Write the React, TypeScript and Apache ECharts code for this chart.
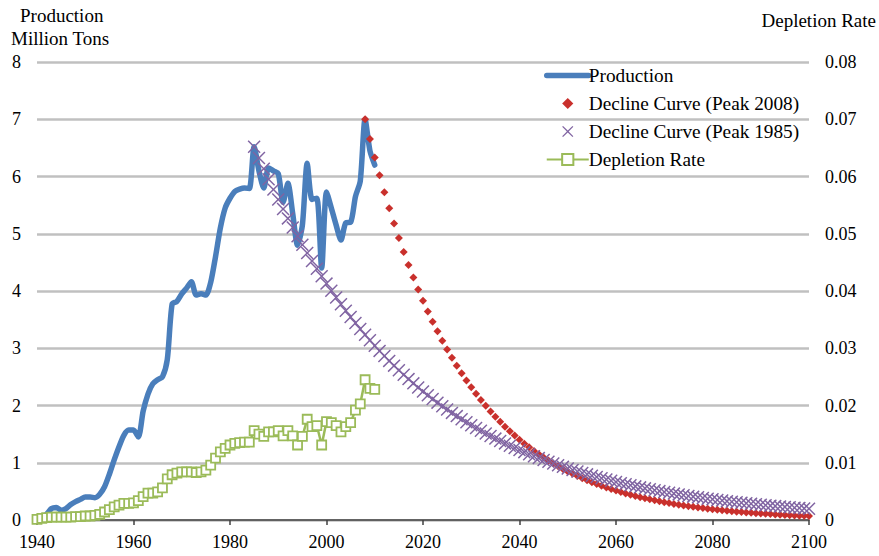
import React, { useEffect, useRef } from "react";
import * as echarts from "echarts";

// ---- Data ----
const productionStartYear = 1940;
const production = [
  0.0, 0.03, 0.1, 0.2, 0.22, 0.17, 0.2, 0.27, 0.32, 0.36,
  0.4, 0.4, 0.39, 0.45, 0.58, 0.8, 1.05, 1.28, 1.48, 1.57,
  1.57, 1.45, 1.9, 2.2, 2.38, 2.45, 2.5, 2.8, 3.77, 3.82,
  3.95, 4.05, 4.16, 3.93, 3.95, 3.93, 4.15, 4.6, 5.1, 5.45,
  5.62, 5.74, 5.78, 5.8, 5.79, 6.52, 6.1, 5.8, 6.15, 6.1,
  6.05, 5.55, 5.88, 5.35, 4.8, 5.15, 6.23, 5.6, 5.62, 4.4,
  5.73, 5.45, 5.15, 4.89, 5.19, 5.2, 5.65, 5.92, 7.0, 6.45,
  6.2,
];

const depletionRate = [
  0.0001, 0.0003, 0.0004, 0.0005, 0.0005, 0.0005, 0.0005, 0.0005, 0.0006, 0.0006,
  0.0007, 0.0007, 0.0008, 0.001, 0.0014, 0.0018, 0.0023, 0.0026, 0.0029, 0.0029,
  0.003, 0.0034, 0.0041, 0.0047, 0.0047, 0.0049, 0.0056, 0.0072, 0.0079, 0.0082,
  0.0084, 0.0084, 0.0084, 0.0083, 0.0084, 0.0087, 0.0096, 0.0108, 0.0119, 0.0125,
  0.0131, 0.0134, 0.0135, 0.0136, 0.0136, 0.0156, 0.015, 0.0146, 0.0154, 0.0154,
  0.0156, 0.0147, 0.0156, 0.0147, 0.0131, 0.0146, 0.0176, 0.0163, 0.0165, 0.0131,
  0.0172, 0.017, 0.0165, 0.0154, 0.0163, 0.017, 0.0192, 0.0203, 0.0245, 0.023,
  0.0228,
];

const decline2008StartYear = 2008;
const decline2008 = [
  7.0, 6.657, 6.331, 6.021, 5.726, 5.445, 5.178, 4.925, 4.683, 4.454,
  4.236, 4.028, 3.831, 3.643, 3.465, 3.295, 3.133, 2.98, 2.834, 2.695,
  2.563, 2.437, 2.318, 2.204, 2.096, 1.994, 1.896, 1.803, 1.715, 1.631,
  1.551, 1.475, 1.403, 1.334, 1.269, 1.206, 1.147, 1.091, 1.038, 0.987,
  0.938, 0.892, 0.849, 0.807, 0.768, 0.73, 0.694, 0.66, 0.628, 0.597,
  0.568, 0.54, 0.514, 0.488, 0.464, 0.442, 0.42, 0.399, 0.38, 0.361,
  0.343, 0.327, 0.311, 0.295, 0.281, 0.267, 0.254, 0.242, 0.23, 0.218,
  0.208, 0.198, 0.188, 0.179, 0.17, 0.162, 0.154, 0.146, 0.139, 0.132,
  0.126, 0.12, 0.114, 0.108, 0.103, 0.098, 0.093, 0.089, 0.084, 0.08,
  0.076, 0.073, 0.069,
];

const decline1985StartYear = 1985;
const decline1985 = [
  6.52, 6.324, 6.135, 5.951, 5.772, 5.599, 5.431, 5.268, 5.11, 4.957,
  4.808, 4.664, 4.524, 4.388, 4.257, 4.129, 4.005, 3.885, 3.769, 3.656,
  3.546, 3.44, 3.336, 3.236, 3.139, 3.045, 2.954, 2.865, 2.779, 2.696,
  2.615, 2.537, 2.461, 2.387, 2.315, 2.246, 2.178, 2.113, 2.05, 1.988,
  1.929, 1.871, 1.815, 1.76, 1.707, 1.656, 1.607, 1.558, 1.512, 1.466,
  1.422, 1.38, 1.338, 1.298, 1.259, 1.221, 1.185, 1.149, 1.115, 1.081,
  1.049, 1.017, 0.987, 0.957, 0.928, 0.9, 0.873, 0.847, 0.822, 0.797,
  0.773, 0.75, 0.728, 0.706, 0.685, 0.664, 0.644, 0.625, 0.606, 0.588,
  0.57, 0.553, 0.537, 0.52, 0.505, 0.49, 0.475, 0.461, 0.447, 0.433,
  0.42, 0.408, 0.396, 0.384, 0.372, 0.361, 0.35, 0.34, 0.329, 0.319,
  0.31, 0.301, 0.292, 0.283, 0.274, 0.266, 0.258, 0.251, 0.243, 0.236,
  0.229, 0.222, 0.215, 0.209, 0.203, 0.197,
];

const seriesNames = [
  "Production",
  "Decline Curve (Peak 2008)",
  "Decline Curve (Peak 1985)",
  "Depletion Rate",
];

const xMin = 1940;
const xMax = 2100;
const xStep = 20;
const leftMax = 8;
const rightMax = 0.08;

const toPairs = (start: number, vals: number[]) =>
  vals.map((v, i) => [start + i, v]);

const FONT = "Liberation Serif";
const CROSS =
  "path://M0,0.8L0.8,0L5,4.2L9.2,0L10,0.8L5.8,5L10,9.2L9.2,10L5,5.8L0.8,10L0,9.2L4.2,5Z";

export default function App() {
  const ref = useRef<HTMLDivElement>(null);

  useEffect(() => {
    if (!ref.current) return;
    const chart = echarts.init(ref.current, null, { renderer: "svg" });
    const labelStyle = { color: "#000", fontFamily: FONT, fontSize: 18 };

    chart.setOption({
      animation: false,
      backgroundColor: "#fff",
      grid: { left: 37, right: 70, top: 62, bottom: 36 },
      legend: {
        orient: "vertical",
        left: 544,
        top: 66,
        padding: 0,
        itemWidth: 42,
        itemHeight: 14,
        itemGap: 9,
        data: [
          {
            name: seriesNames[0],
            itemStyle: { opacity: 0 },
            lineStyle: { width: 5.5, color: "#4A7EBB", cap: "round" },
          },
          seriesNames[1],
          seriesNames[2],
          seriesNames[3],
        ],
        textStyle: { color: "#000", fontFamily: FONT, fontSize: 19.3, padding: [0, 0, 0, -5] },
        selectedMode: false,
      },
      graphic: [
        {
          type: "text",
          left: 20,
          top: 6,
          style: { text: "Production", font: `19px ${FONT}`, fill: "#000" },
        },
        {
          type: "text",
          left: 11,
          top: 29,
          style: { text: "Million Tons", font: `19px ${FONT}`, fill: "#000" },
        },
        {
          type: "text",
          right: 3,
          top: 11,
          style: { text: "Depletion Rate", font: `19px ${FONT}`, fill: "#000" },
        },
      ],
      xAxis: {
        type: "value",
        min: xMin,
        max: xMax,
        interval: xStep,
        splitLine: { show: false },
        axisLine: { show: true, onZero: false, lineStyle: { color: "#404040", width: 1.5 } },
        axisTick: { show: true, length: 5, lineStyle: { color: "#404040", width: 1.5 } },
        axisLabel: { ...labelStyle, margin: 13, formatter: (v: number) => String(v) },
      },
      yAxis: [
        {
          type: "value",
          min: 0,
          max: leftMax,
          interval: 1,
          axisLine: { show: false },
          axisTick: { show: false },
          axisLabel: { ...labelStyle, margin: 16 },
          splitLine: { lineStyle: { color: "#C0C0C0", width: 2.5 } },
        },
        {
          type: "value",
          min: 0,
          max: rightMax,
          interval: 0.01,
          axisLine: { show: false },
          axisTick: { show: false },
          splitLine: { show: false },
          axisLabel: {
            ...labelStyle,
            margin: 16,
            formatter: (v: number) => (v === 0 ? "0" : v.toFixed(2)),
          },
        },
      ],
      series: [
        {
          name: seriesNames[0],
          type: "line",
          data: toPairs(productionStartYear, production),
          symbol: "none",
          smooth: 0.25,
          lineStyle: { color: "#4A7EBB", width: 5.5, cap: "round", join: "round" },
          itemStyle: { color: "#4A7EBB" },
          z: 2,
        },
        {
          name: seriesNames[1],
          type: "line",
          data: toPairs(decline2008StartYear, decline2008),
          symbol: "diamond",
          symbolSize: 8,
          showAllSymbol: true,
          lineStyle: { opacity: 0 },
          itemStyle: { color: "#C9302C", borderWidth: 0 },
          z: 3,
        },
        {
          name: seriesNames[2],
          type: "line",
          data: toPairs(decline1985StartYear, decline1985),
          symbol: CROSS,
          symbolSize: 13,
          showAllSymbol: true,
          lineStyle: { opacity: 0 },
          itemStyle: { color: "#8064A2", borderWidth: 0 },
          z: 4,
        },
        {
          name: seriesNames[3],
          type: "line",
          yAxisIndex: 1,
          data: toPairs(productionStartYear, depletionRate),
          symbol: "rect",
          symbolSize: 9,
          showAllSymbol: true,
          lineStyle: { color: "#9BBB59", width: 2.5 },
          itemStyle: { color: "#FFFFFF", borderColor: "#9BBB59", borderWidth: 1.8 },
          z: 5,
        },
      ],
    });

    return () => chart.dispose();
  }, []);

  return <div ref={ref} style={{ width: 879, height: 556, position: "absolute", left: 0, top: 0 }} />;
}
